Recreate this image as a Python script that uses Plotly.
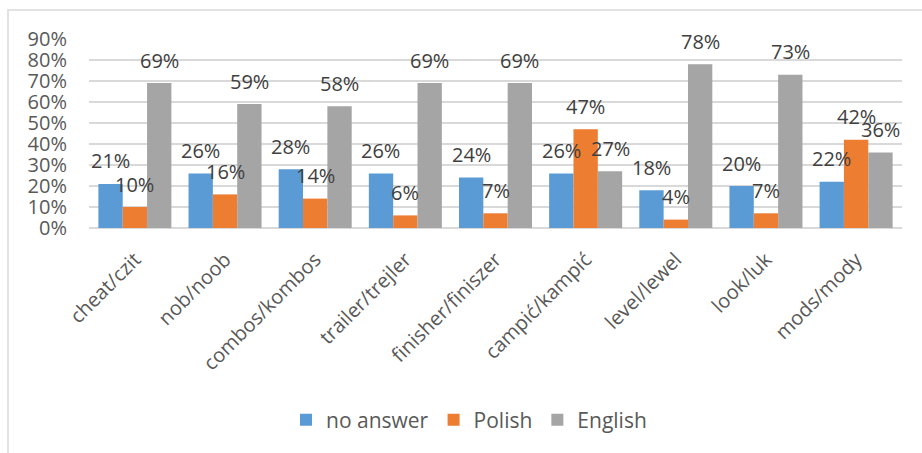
import plotly.graph_objects as go

categories = ["cheat/czit", "nob/noob", "combos/kombos", "trailer/trejler",
              "finisher/finiszer", "campić/kampić", "level/lewel", "look/luk", "mods/mody"]
no_answer = [21, 26, 28, 26, 24, 26, 18, 20, 22]
polish = [10, 16, 14, 6, 7, 47, 4, 7, 42]
english = [69, 59, 58, 69, 69, 27, 78, 73, 36]
series_names = ["no answer", "Polish", "English"]
series_colors = ["#5B9BD5", "#ED7D31", "#A5A5A5"]
y_ticks = [0, 10, 20, 30, 40, 50, 60, 70, 80, 90]

W, H = 922, 453
ML, MR, MT, MB = 89, 20, 39, 225
BARGAP = 0.19
FONT = "Open Sans"

fig = go.Figure()
series = [no_answer, polish, english]
for name, vals, color in zip(series_names, series, series_colors):
    fig.add_trace(go.Bar(
        name=name, x=categories, y=[v / 100 for v in vals],
        marker=dict(color=color, line=dict(width=0)),
    ))

# value labels sitting above each bar
plot_w = W - ML - MR
bar_w = plot_w / len(categories) * (1 - BARGAP) / len(series)
for i, vals in enumerate(series):
    for cat, v in zip(categories, vals):
        fig.add_annotation(
            x=cat, y=v / 100, text=f"{v}%", showarrow=False,
            xshift=(i - 1) * bar_w, yshift=23, yanchor="middle",
            font=dict(family=FONT, size=20, color="#404040"),
        )

# outer chart border
plot_h = H - MT - MB
fig.add_shape(
    type="rect", xref="paper", yref="paper",
    x0=(8 - ML) / plot_w, x1=(935 - ML) / plot_w,
    y0=(H - MB - 470) / plot_h, y1=(H - MB - 10) / plot_h,
    line=dict(color="#D9D9D9", width=1.5), fillcolor="rgba(0,0,0,0)", layer="below",
)

fig.update_layout(
    width=W, height=H,
    margin=dict(l=ML, r=MR, t=MT, b=MB),
    paper_bgcolor="white", plot_bgcolor="white",
    barmode="group", bargap=BARGAP, bargroupgap=0,
    font=dict(family=FONT, size=20, color="#595959"),
    showlegend=True,
    legend=dict(
        orientation="h", x=(469 - ML) / plot_w, xanchor="center",
        y=(H - MB - 420) / plot_h, yanchor="middle",
        font=dict(family=FONT, size=21, color="#595959"),
        itemwidth=30, tracegroupgap=0, bgcolor="rgba(0,0,0,0)",
    ),
    xaxis=dict(
        tickangle=-45, showgrid=False, showline=False, ticks="",
        tickfont=dict(family=FONT, size=20, color="#595959"),
        ticklabelstandoff=15,
    ),
    yaxis=dict(
        range=[0, 0.9], tickvals=[t / 100 for t in y_ticks],
        ticktext=[f"{t}%" for t in y_ticks],
        showgrid=True, gridcolor="#D9D9D9", gridwidth=1.5,
        zeroline=True, zerolinecolor="#D9D9D9", zerolinewidth=1.5,
        showline=False, ticks="",
        tickfont=dict(family=FONT, size=20, color="#595959"),
        ticklabelstandoff=21,
    ),
)

fig.write_html("out.html")
